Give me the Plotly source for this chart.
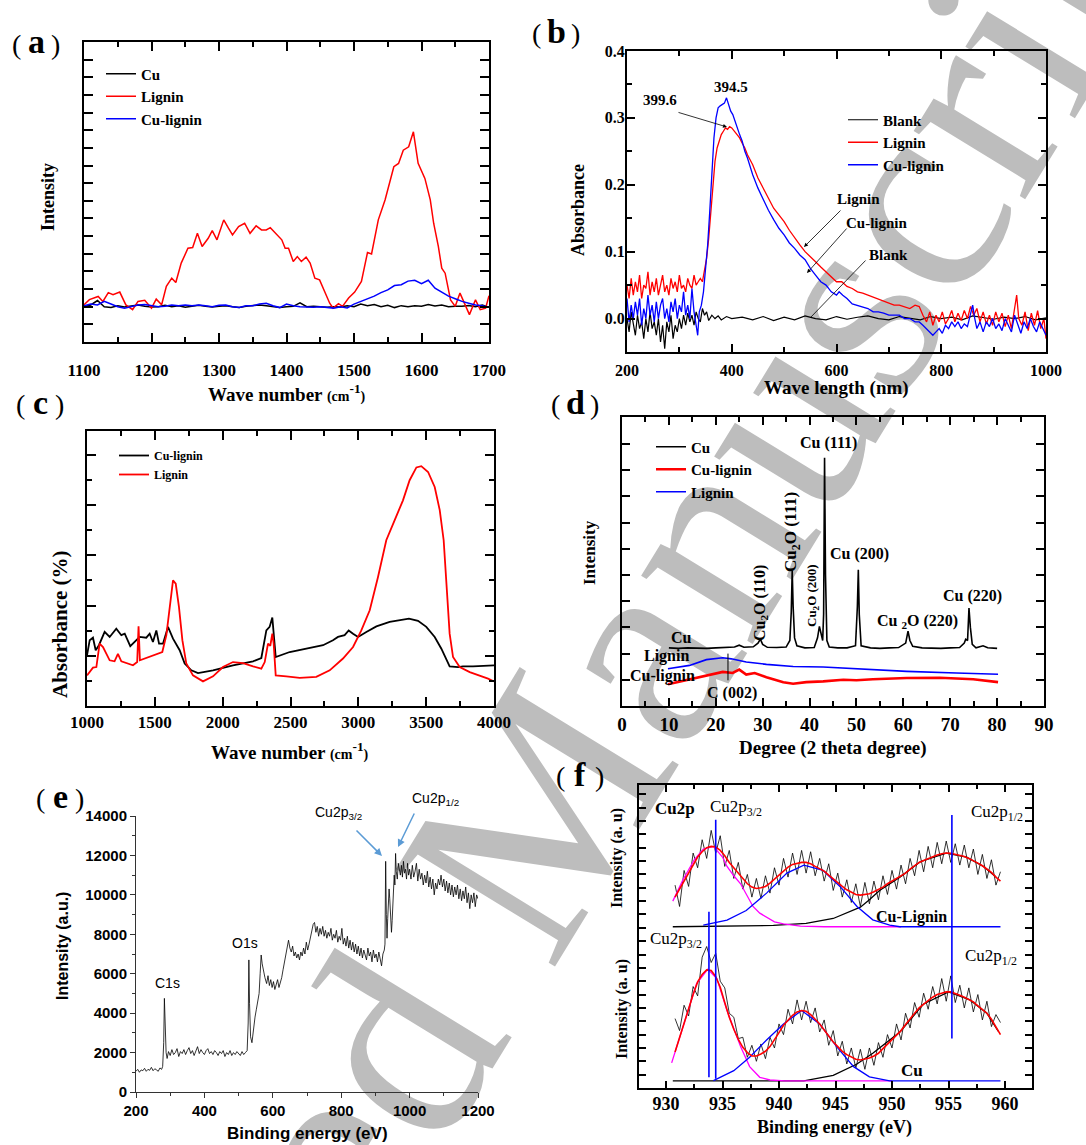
import plotly.graph_objects as go

W, H = 1086, 1145
SERIF = "Liberation Serif"
SANS = "Liberation Sans"

# ---------------- DATA ----------------
# (a) Raman
A_RED_X = [1100,1108,1121,1128,1136,1143,1153,1162,1172,1180,1190,1200,1207,1215,1222,1230,1236,1244,1254,1261,
           1268,1275,1284,1290,1297,1307,1314,1320,1329,1338,1346,1355,1363,1370,1376,1384,1393,1398,1403,1410,
           1416,1422,1429,1435,1442,1449,1457,1464,1469,1477,1483,1492,1501,1511,1520,1526,1536,1546,1559,1566,
           1573,1581,1588,1595,1605,1613,1618,1625,1630,1635,1643,1650,1657,1664,1671,1680,1687,1695,1700]
A_RED_Y = [2.11,2.4,2.58,2.3,2.8,2.68,2.83,2.1,1.83,2.3,2.36,1.92,2.43,2.11,3.15,3.62,3.37,4.47,5.31,5.35,
           6.16,5.41,5.88,6.31,5.79,6.92,6.45,6.07,6.54,6.73,6.16,6.58,6.35,6.35,6.48,6.16,5.79,5.31,5.31,4.56,
           4.84,4.56,4.81,4.47,3.62,3.52,2.77,2.2,1.92,2.17,2.02,2.49,2.83,3.43,5.07,4.99,6.92,8.05,9.93,10.12,
           10.87,11.06,11.91,10.12,9.27,8.05,6.73,5.41,4.18,3.9,2.39,2.02,2.77,2.11,1.55,2.39,1.83,1.92,2.62]
A_X10 = [1100,1110,1120,1130,1140,1150,1160,1170,1180,1190,1200,1210,1220,1230,1240,1250,1260,1270,1280,1290,
         1300,1310,1320,1330,1340,1350,1360,1370,1380,1390,1400,1410,1420,1430,1440,1450,1460,1470,1480,1490,
         1500,1510,1520,1530,1540,1550,1560,1570,1580,1590,1600,1610,1620,1630,1640,1650,1660,1670,1680,1690,1700]
A_BLUE_Y = [2.05,2.15,2.1,2.3,2.15,2.0,1.92,2.0,2.1,2.12,2.05,2.0,2.02,2.1,2.05,2.1,2.05,2.1,2.05,2.0,
            2.08,2.1,2.0,1.95,2.05,2.05,2.15,2.2,2.05,1.95,2.15,2.05,2.0,1.97,1.97,2.0,1.95,1.92,2.0,1.93,
            2.15,2.3,2.45,2.6,2.8,2.95,3.2,3.25,3.45,3.5,3.3,3.5,3.05,2.8,2.6,2.45,2.3,2.2,2.1,2.05,1.97]
A_CU_Y = [2.0,2.1,2.35,2.0,1.95,2.05,1.98,2.05,2.1,2.02,1.98,2.0,2.08,2.0,2.05,1.97,2.03,2.08,2.02,1.98,
          2.02,2.05,2.0,1.96,2.03,2.06,2.1,2.05,1.98,1.95,2.0,2.02,2.22,2.0,2.03,2.0,1.97,2.0,1.98,2.05,
          2.0,2.15,2.05,2.12,2.0,2.08,1.95,2.06,2.0,2.05,2.02,2.12,2.04,2.1,2.0,2.03,2.02,2.07,2.0,2.1,1.97]

# (b) UV-vis
B_RED_X = [200,204,208,212,216,220,224,228,232,236,240,244,248,252,256,260,264,268,272,276,280,284,288,292,296,
           300,304,308,312,316,320,324,328,332,336,340,344,348,352,356,360,364,368,372,376,380,384,388,392,396,
           400,405,410,415,420,425,430,440,450,460,470,480,490,500,510,520,530,540,550,560,570,580,590,600,610,
           620,630,640,650,660,670,680,690,700,710,720,730,740,750,758,765,772,778,784,790,796,802,808,814,820,
           826,832,838,844,850,856,862,868,874,880,886,892,898,904,910,916,922,928,934,940,944,948,954,960,966,
           972,978,984,990,996,1000]
B_RED_Y = [0.05,0.03,0.06,0.035,0.055,0.04,0.065,0.03,0.05,0.045,0.07,0.035,0.055,0.04,0.06,0.035,0.05,0.065,0.04,0.05,
           0.035,0.06,0.045,0.055,0.04,0.065,0.045,0.05,0.04,0.06,0.05,0.045,0.065,0.05,0.055,0.06,0.055,0.07,0.09,0.12,
           0.16,0.2,0.235,0.255,0.265,0.275,0.28,0.285,0.283,0.287,0.285,0.28,0.275,0.27,0.262,0.255,0.245,0.23,0.21,0.195,
           0.18,0.165,0.155,0.145,0.132,0.12,0.11,0.1,0.093,0.085,0.077,0.07,0.062,0.055,0.055,0.048,0.045,0.04,0.038,0.035,
           0.032,0.028,0.025,0.022,0.02,0.02,0.018,0.015,0.02,0.018,0.005,-0.005,0.01,-0.01,0.005,-0.005,0.01,-0.008,0.0,0.012,
           -0.005,0.008,-0.003,0.012,0.0,0.018,0.005,0.015,-0.005,0.01,-0.008,0.005,-0.01,0.01,-0.005,0.008,-0.012,0.005,-0.015,0.015,
           0.035,0.0,-0.01,0.01,-0.018,0.008,-0.01,0.012,-0.015,0.0,-0.03]
B_BLUE_X = [200,204,208,212,216,220,224,228,232,236,240,244,248,252,256,260,264,268,272,276,280,284,288,292,296,
            300,304,308,312,316,320,324,328,332,335,338,342,346,350,354,358,362,366,370,374,378,382,386,390,394,
            398,402,406,410,415,420,425,430,440,450,460,470,480,490,500,510,520,530,540,550,560,570,580,590,600,
            605,612,620,630,640,650,660,670,680,690,700,710,720,730,740,750,758,765,772,778,784,790,796,802,808,
            814,820,826,832,838,844,850,856,860,864,868,874,880,886,892,898,904,910,916,922,928,934,940,946,952,
            958,964,970,976,982,988,994,1000]
B_BLUE_Y = [0.03,-0.005,0.02,0.0,0.025,0.005,0.03,-0.01,0.015,0.0,0.035,0.005,0.02,-0.005,0.025,0.0,0.02,0.03,0.0,0.015,
            -0.005,0.025,0.01,0.03,0.0,0.02,0.01,0.04,0.005,0.02,0.0,0.045,0.01,-0.01,-0.025,0.01,0.02,0.04,0.07,0.11,
            0.16,0.22,0.27,0.3,0.315,0.318,0.32,0.322,0.33,0.318,0.31,0.305,0.295,0.285,0.275,0.265,0.25,0.24,0.215,0.195,
            0.178,0.162,0.148,0.135,0.125,0.113,0.105,0.095,0.088,0.075,0.065,0.055,0.05,0.04,0.035,0.04,0.035,0.03,0.022,0.02,
            0.018,0.015,0.01,0.01,0.008,0.005,0.005,0.005,0.0,0.0,-0.005,-0.005,-0.01,-0.015,-0.02,-0.025,-0.02,-0.015,-0.022,-0.01,
            -0.015,-0.005,-0.012,-0.005,-0.015,-0.008,-0.012,0.005,0.02,0.0,-0.015,-0.005,-0.02,-0.005,-0.012,0.0,-0.015,-0.008,-0.018,0.0,
            -0.01,-0.02,0.005,-0.01,-0.022,-0.005,-0.015,0.0,-0.012,-0.02,-0.005,-0.015,-0.025]
B_BLK_X = [200,204,208,212,216,220,224,228,232,236,240,244,248,252,256,260,264,268,272,276,280,284,288,292,296,
           300,304,308,312,316,320,324,328,332,336,340,344,348,352,356,362,368,374,380,390,400,420,440,460,480,
           500,520,540,560,580,600,620,640,660,680,700,720,740,760,780,800,820,840,860,880,900,920,940,960,980,1000]
B_BLK_Y = [0.0,-0.02,0.01,-0.01,-0.025,0.005,-0.015,-0.005,-0.03,0.0,-0.02,0.01,-0.015,-0.005,-0.025,0.0,-0.035,-0.01,-0.045,-0.005,
           -0.02,0.005,-0.03,-0.01,-0.02,0.0,-0.015,0.005,-0.01,0.008,-0.005,0.005,-0.01,0.01,0.0,-0.005,0.015,0.005,0.01,-0.003,
           0.005,0.0,0.004,-0.002,0.003,0.0,0.002,-0.002,0.003,-0.003,0.002,-0.002,0.004,0.0,-0.002,0.003,-0.001,0.002,0.004,0.0,
           -0.002,0.003,0.001,-0.002,0.003,0.0,0.002,-0.002,0.004,0.001,-0.001,0.002,0.0,0.003,-0.002,0.001]

# (c) FTIR
C_RED_X = [1000,1044,1069,1093,1118,1167,1203,1228,1253,1302,1339,1370,1380,1390,1450,1486,1523,1555,1585,1609,
           1634,1654,1678,1703,1732,1781,1855,1929,2002,2076,2150,2224,2285,2310,2334,2351,2366,2376,2391,2469,
           2568,2690,2789,2887,2961,3022,3084,3145,3206,3268,3329,3378,3428,3464,3514,3563,3600,3629,3649,3673,
           3698,3747,3821,3894,3956,4000]
C_RED_Y = [1.22,1.53,1.55,2.48,2.35,1.82,1.78,2.08,1.78,1.69,1.62,1.75,3.17,1.82,1.95,2.0,2.08,2.15,2.82,3.94,
           5.0,4.87,3.94,2.62,1.69,1.22,0.98,1.18,1.55,1.75,1.71,1.58,1.49,1.75,2.48,2.4,2.88,2.48,1.22,1.18,
           1.12,1.16,1.42,1.89,2.35,3.01,3.81,5.14,6.6,7.4,8.19,8.99,9.5,9.55,9.32,8.72,7.8,6.6,5.0,2.88,
           1.95,1.55,1.35,1.22,1.09,0.98]
C_BLK_X = [1000,1020,1044,1064,1088,1130,1167,1216,1253,1278,1319,1351,1388,1437,1462,1486,1511,1531,1560,1597,
           1634,1683,1720,1769,1818,1929,2076,2224,2285,2322,2346,2366,2376,2391,2494,2617,2740,2813,2850,2899,
           2929,2961,2998,3059,3133,3231,3305,3373,3440,3501,3563,3612,3673,3735,3771,3845,4000]
C_BLK_Y = [2.02,2.62,2.72,2.22,2.42,2.95,2.75,3.08,2.82,2.88,2.38,2.55,2.75,2.72,2.88,2.55,3.01,2.48,2.48,3.15,
           2.68,2.22,1.69,1.42,1.31,1.42,1.62,1.78,1.91,3.01,3.15,3.52,2.88,1.95,2.15,2.28,2.42,2.62,2.75,2.82,
           3.01,2.88,2.75,2.95,3.17,3.35,3.41,3.48,3.39,3.15,2.75,2.28,1.58,1.55,1.58,1.58,1.62]

# (d) XRD
D_CU_X = [10,12,14,16,18,20,22,24,25,26,28,29,29.5,30,31,33,35,35.8,36.1,36.3,36.5,36.8,37.3,39,41,41.7,42.1,42.4,
          42.8,43.0,43.2,43.4,43.7,44.2,46,48,49.8,50.2,50.4,50.6,51,53,55,57,59,60.5,61.0,61.4,62,64,66,68,70,72,
          73.0,73.3,73.7,74.0,74.3,74.7,75.5,77,78,80]
D_CU_Y = [2.22,2.2,2.22,2.21,2.2,2.22,2.23,2.25,2.32,2.24,2.26,2.4,2.55,2.35,2.24,2.23,2.25,2.5,3.6,5.17,3.8,2.6,2.3,2.22,
          2.23,2.6,3.04,2.75,2.5,3.5,9.47,5.0,2.5,2.25,2.22,2.22,2.3,3.8,5.2,3.5,2.3,2.22,2.2,2.22,2.23,2.4,2.86,2.5,
          2.28,2.22,2.21,2.2,2.22,2.23,2.4,2.55,2.5,3.74,3.0,2.35,2.22,2.3,2.22,2.2]
D_LIG_X = [9.8,14.4,18,21.5,23.3,26.5,30.8,36.5,42.9,50,60.7,71.3,80.2]
D_LIG_Y = [1.42,1.55,1.77,1.84,1.8,1.68,1.59,1.51,1.49,1.42,1.32,1.26,1.21]
D_CULIG_X = [9.8,13.7,18,21.5,23.6,25,26.5,28.3,30.8,34.4,36.5,39.3,42.9,47.2,50,53.5,60.7,67.8,74.9,80.2]
D_CULIG_Y = [0.83,0.98,1.17,1.3,1.26,1.39,1.2,1.26,1.1,0.91,0.85,0.91,0.94,1.0,0.98,1.02,1.07,1.08,1.02,0.91]
D_C002_X = [22.6, 22.6]
D_C002_Y = [0.98, 2.0]

# (e) XPS survey
E_X = [200,205,210,215,220,225,230,235,240,245,250,255,260,265,270,275,278,281,283,285,288,291,295,300,305,310,315,320,
       325,330,335,340,345,350,355,360,365,370,375,380,385,390,395,400,405,410,415,420,425,430,435,440,445,450,455,460,
       465,470,475,480,485,490,495,500,505,510,515,520,525,528,530,532,535,539,543,548,552,556,560,563,566,569,573,577,
       582,586,590,594,598,602,606,610,614,618,622,626,630,634,638,642,646,650,654,658,662,666,670,674,678,682,686,690,
       694,698,702,706,710,714,718,722,726,730,734,738,742,746,750,754,758,762,766,770,774,778,782,786,790,794,798,802,
       806,810,814,818,822,826,830,834,838,842,846,850,854,858,862,866,870,874,878,882,886,890,894,898,902,906,910,914,
       918,922,926,928,930,932,934,936,938,940,942,945,947,949,951,953,955,957,959,961,964,967,970,973,976,979,982,985,
       988,991,994,997,1000,1004,1008,1012,1016,1020,1024,1028,1032,1036,1040,1044,1048,1052,1056,1060,1064,1068,1072,
       1076,1080,1084,1088,1092,1096,1100,1104,1108,1112,1116,1120,1124,1128,1132,1136,1140,1144,1148,1152,1156,1160,
       1164,1168,1172,1176,1180,1184,1188,1192,1196,1200]
E_Y = [1050,1150,1000,1120,1080,1200,1050,1150,1100,1250,1080,1180,1120,1050,1220,1150,1300,2500,4750,3000,2000,1700,
       2050,1850,2150,1900,2000,2200,1800,2050,1950,2150,1900,2100,2250,1950,2100,1850,2050,2300,1950,2150,2000,1900,
       2100,2200,1950,2050,1900,2100,2000,1850,2050,1950,2100,1800,2000,1900,2100,1850,2000,1900,2050,1950,1850,2050,
       1900,2000,2100,3500,6700,4500,2800,2500,3200,3800,4200,4600,5000,6000,6950,6500,6100,5800,5500,5900,5400,5700,
       5300,5600,5200,5500,5700,5300,5500,5800,6200,6600,7000,7300,7700,7300,7100,7400,6900,7100,6800,7000,6700,7100,
       6900,7300,7000,7600,7200,7500,7900,8300,8500,8600,8100,8400,7900,8300,8000,8400,7900,8200,7800,8100,7900,8300,
       7700,8000,7800,8200,7600,7900,7700,8300,7500,7800,7400,7900,7300,7700,7200,7600,7100,7500,7000,7400,6900,7300,
       6800,7200,7000,6700,7300,6900,7100,6600,7200,6800,7000,6600,7100,6800,6400,7000,7200,7500,11700,9000,7800,8800,
       9300,10300,9800,8300,8100,8700,9500,10600,11000,10500,12100,11200,10800,11600,11200,11000,11500,10900,11700,11100,
       11300,10800,11600,11000,11300,10800,11500,10900,11200,11600,10700,11300,10800,11100,10500,11000,10600,11200,10400,
       10900,10300,10800,10000,10600,10300,10800,10500,11000,10400,10800,10200,10700,10100,10600,10000,10500,9900,10400,
       10000,10500,9800,10300,9700,10200,9800,10400,9600,10100,9300,10000,9600,10100,9400,10000,9800]

# (f) XPS Cu2p high resolution
F_X = [930.8,931.2,931.6,932.0,932.4,932.8,933.2,933.6,934.0,934.4,934.8,935.2,935.6,936.0,936.4,936.8,937.2,937.6,
       938.0,938.4,938.8,939.2,939.6,940.0,940.4,940.8,941.2,941.6,942.0,942.4,942.8,943.2,943.6,944.0,944.4,944.8,
       945.2,945.6,946.0,946.4,946.8,947.2,947.6,948.0,948.4,948.8,949.2,949.6,950.0,950.4,950.8,951.2,951.6,952.0,
       952.4,952.8,953.2,953.6,954.0,954.4,954.8,955.2,955.6,956.0,956.4,956.8,957.2,957.6,958.0,958.4,958.8,959.2,959.6]
F_UP_DATA = [15.2,13.6,16.3,15.1,17.6,16.5,18.6,17.2,19.3,17.6,18.9,16.6,17.8,15.7,16.9,14.9,16.0,14.3,
             15.7,14.2,15.9,14.6,16.5,15.2,17.2,15.8,17.6,16.0,17.8,16.1,17.7,15.9,17.2,15.5,16.8,14.8,
             16.1,14.3,15.6,13.9,15.3,13.6,15.4,13.8,15.5,14.1,15.9,14.5,16.3,14.9,16.7,15.3,17.2,15.9,
             17.8,16.2,18.1,16.5,18.4,16.8,18.5,16.9,18.3,16.7,18.2,16.5,17.9,16.0,17.5,15.7,17.1,15.2,16.2]
F_UP_FIT = [14.3,14.9,15.5,16.1,16.8,17.3,17.7,18.0,18.1,18.05,17.8,17.4,16.9,16.5,16.1,15.7,15.3,15.05,
            14.95,15.0,15.1,15.35,15.65,16.0,16.3,16.55,16.75,16.85,16.9,16.9,16.8,16.6,16.45,16.25,15.95,15.65,
            15.35,15.1,14.85,14.65,14.5,14.45,14.5,14.55,14.7,14.85,15.05,15.3,15.5,15.7,15.85,16.1,16.4,16.65,
            16.9,17.05,17.2,17.35,17.45,17.55,17.6,17.58,17.5,17.45,17.35,17.2,17.05,16.85,16.65,16.4,16.15,15.8,15.5]
F_LO_DATA = [5.2,4.3,6.2,5.4,7.6,6.9,9.8,10.6,9.4,10.1,8.0,7.5,5.6,5.3,3.7,3.8,2.3,3.2,
             2.0,3.3,2.2,3.8,3.0,4.8,4.0,5.9,4.8,6.6,5.1,6.5,4.9,6.0,4.2,5.1,3.2,4.3,
             2.4,3.5,1.8,3.0,1.5,2.9,1.4,3.0,1.7,3.4,2.3,4.0,3.0,4.8,3.6,5.6,4.5,6.4,
             5.3,7.1,5.9,7.6,6.3,8.2,6.5,8.4,6.4,7.7,6.0,7.5,5.7,7.0,5.1,6.5,4.6,5.5,4.9]
F_LO_FIT = [2.7,3.8,4.85,5.9,7.0,7.95,8.5,8.85,8.8,8.35,7.55,6.4,5.3,4.4,3.65,3.05,2.65,2.4,
            2.4,2.55,2.75,3.1,3.6,4.15,4.7,5.1,5.45,5.7,5.8,5.75,5.5,5.15,4.8,4.35,3.9,3.45,
            3.1,2.75,2.5,2.3,2.15,2.1,2.15,2.25,2.4,2.6,2.95,3.3,3.65,4.0,4.3,4.75,5.2,5.6,
            6.0,6.3,6.55,6.8,7.0,7.1,7.2,7.2,7.1,6.95,6.8,6.65,6.45,6.15,5.85,5.6,5.15,4.6,4.0]
F_UP_MAG_X = [930.6,931.5,932.5,933.3,934.2,935.0,935.4,936.0,936.6,937.2,937.7,938.3,938.9,939.6,940.4,941.9,944.0,950.8]
F_UP_MAG_Y = [14.0,15.6,17.1,17.9,18.1,17.3,16.6,15.9,15.3,14.4,13.6,13.1,12.8,12.45,12.3,12.12,12.08,12.08]
F_UP_BLU_X = [933.3,935.4,937.1,938.9,940.7,942.2,943.9,945.4,946.9,948.3,949.8,950.7,959.6]
F_UP_BLU_Y = [12.2,12.58,13.3,14.6,16.1,16.7,16.3,15.1,13.6,12.6,12.2,12.08,12.08]
F_UP_BLK_X = [930.6,939.5,942.4,944.8,947.2,948.0,948.9,950.7,952.5,954.8,956.6,958.1,959.2]
F_UP_BLK_Y = [12.08,12.18,12.33,12.7,13.55,14.1,14.8,15.8,16.95,17.6,17.3,16.6,15.8]
F_LO_MAG_X = [930.5,931.5,932.7,933.7,934.5,935.4,936.6,937.4,938.3,939.2,940.5,950.0]
F_LO_MAG_Y = [1.88,4.6,7.8,8.9,8.2,5.8,3.1,1.6,0.8,0.6,0.53,0.53]
F_LO_BLU_X = [934.2,936.0,937.4,938.9,940.4,942.0,943.6,945.1,946.6,948.0,949.8,959.6]
F_LO_BLU_Y = [0.55,1.3,2.3,3.6,4.8,5.8,4.8,3.1,1.6,0.83,0.53,0.53]
F_LO_BLK_X = [930.6,942.2,944.8,946.9,948.3,950.7,952.8,955.0,956.9,958.4,959.4]
F_LO_BLK_Y = [0.53,0.53,0.95,1.8,2.6,4.2,6.3,7.2,6.6,5.6,4.25]
F_VL1_X = [934.4, 934.4]; F_VL1_Y = [20.1, 0.7]
F_VL2_X = [933.8, 933.8]; F_VL2_Y = [13.2, 0.8]
F_VL3_X = [955.3, 955.3]; F_VL3_Y = [20.45, 3.7]

# ---------------- helpers ----------------
def px(x):
    return x / W


def py(y):
    return 1 - y / H


fig = go.Figure()
layout = {}
ann = []

DOM = {1: (84, 489, 42, 342), 2: (627, 1046, 51, 352), 3: (87, 494, 431, 706),
       4: (622, 1044, 417, 706), 5: (136, 478, 816, 1092), 6: (639, 1032, 785, 1088)}


def nm(n, a):
    return a if n == 1 else f"{a}{n}"


def boxed(n, xr, yr, xdt, xmi, ydt, ymi, ylabels=False, tfs=17, ticklen=8, xstand=None, ystand=None, yfmt=None):
    x0, x1, y0, y1 = DOM[n]
    common = dict(showline=True, linewidth=2, linecolor='black', mirror='ticks', ticks='inside',
                  ticklen=ticklen, tickwidth=1.5, tickcolor='black', showgrid=False, zeroline=False,
                  automargin=False,
                  tickfont=dict(family=SERIF, size=tfs, color='black', weight='bold'))
    xa = dict(common, domain=[px(x0), px(x1)], range=xr, anchor=nm(n, 'y'), dtick=xdt, tick0=0,
              minor=dict(ticks='inside', dtick=xmi, ticklen=ticklen * 0.6, tickwidth=1.5, tickcolor='black'))
    ya = dict(common, domain=[py(y1), py(y0)], range=yr, anchor=nm(n, 'x'), dtick=ydt, tick0=0,
              showticklabels=ylabels,
              minor=dict(ticks='inside', dtick=ymi, ticklen=ticklen * 0.6, tickwidth=1.5, tickcolor='black'))
    if xstand is not None:
        xa['ticklabelstandoff'] = xstand
    if ystand is not None:
        ya['ticklabelstandoff'] = ystand
    if yfmt:
        ya['tickformat'] = yfmt
    layout[nm(n, 'xaxis')] = xa
    layout[nm(n, 'yaxis')] = ya


def txt(s, x, y, size, family=SERIF, bold=True, angle=0, color='black', xanchor='center'):
    ann.append(dict(text=s, x=px(x), y=py(y), xref='paper', yref='paper', showarrow=False,
                    font=dict(family=family, size=size, color=color, weight='bold' if bold else 'normal'),
                    textangle=angle, xanchor=xanchor, yanchor='middle'))


def arrow(x0, y0, x1, y1, color='black', head=2, width=0.8, size=1.0):
    ann.append(dict(text='', x=px(x1), y=py(y1), xref='paper', yref='paper', ax=x0 - x1, ay=y0 - y1,
                    axref='pixel', ayref='pixel', showarrow=True, arrowhead=head, arrowcolor=color,
                    arrowwidth=width, arrowsize=size))


def line(x, y, n, color, width, name=None, legend=None):
    fig.add_trace(go.Scatter(x=x, y=y, mode='lines', xaxis=nm(n, 'x'), yaxis=nm(n, 'y'),
                             line=dict(color=color, width=width), name=name or '',
                             showlegend=legend is not None, legend=legend or 'legend', hoverinfo='skip'))


# ---------------- panel (a) ----------------
boxed(1, [1100, 1700], [0, 17], 100, 50, 1, 1, tfs=17, ticklen=9, xstand=12)
line(A_X10, A_CU_Y, 1, 'black', 1.5, 'Cu', 'legend')
line(A_RED_X, A_RED_Y, 1, 'red', 1.5, 'Lignin', 'legend')
line(A_X10, A_BLUE_Y, 1, 'blue', 1.5, 'Cu-lignin', 'legend')

# ---------------- panel (b) ----------------
boxed(2, [200, 1000], [-0.05, 0.4], 200, 100, 0.1, 0.05, ylabels=True, tfs=16, ticklen=8, yfmt='.1f',
      xstand=3, ystand=-3)
line(B_BLK_X, B_BLK_Y, 2, 'black', 1.2, 'Blank', 'legend2')
line(B_RED_X, B_RED_Y, 2, 'red', 1.3, 'Lignin', 'legend2')
line(B_BLUE_X, B_BLUE_Y, 2, 'blue', 1.3, 'Cu-lignin', 'legend2')

# ---------------- panel (c) ----------------
boxed(3, [1000, 4000], [0, 10.95], 500, 250, 2, 1, tfs=17, ticklen=9)
line(C_BLK_X, C_BLK_Y, 3, 'black', 1.8, 'Cu-lignin', 'legend3')
line(C_RED_X, C_RED_Y, 3, 'red', 1.8, 'Lignin', 'legend3')

# ---------------- panel (d) ----------------
boxed(4, [0, 90], [0, 11.03], 10, 5, 1, 1, tfs=19, ticklen=8)
line(D_CU_X, D_CU_Y, 4, 'black', 1.6, 'Cu', 'legend4')
line(D_CULIG_X, D_CULIG_Y, 4, 'red', 2.6, 'Cu-lignin', 'legend4')
line(D_LIG_X, D_LIG_Y, 4, 'blue', 1.6, 'Lignin', 'legend4')
line(D_C002_X, D_C002_Y, 4, 'black', 1.0)

# ---------------- panel (e) ----------------
x0, x1, y0, y1 = DOM[5]
ecommon = dict(showline=True, linewidth=1, linecolor='#333333', ticks='outside', ticklen=5, tickwidth=1,
               tickcolor='#333333', showgrid=False, zeroline=False, mirror=False, automargin=False,
               tickfont=dict(family=SANS, size=15, color='black', weight='bold'))
layout['xaxis5'] = dict(ecommon, domain=[px(x0), px(x1)], range=[200, 1200], anchor='y5', dtick=200,
                        tickformat='d',
                        minor=dict(ticks='outside', dtick=100, ticklen=3, tickwidth=1, tickcolor='#333333'))
layout['yaxis5'] = dict(ecommon, domain=[py(y1), py(y0)], range=[0, 14000], anchor='x5', dtick=2000,
                        tickformat='d',
                        minor=dict(ticks='outside', dtick=1000, ticklen=3, tickwidth=1, tickcolor='#333333'))
line(E_X, E_Y, 5, 'black', 0.8)

# ---------------- panel (f) ----------------
boxed(6, [927.61, 962.39], [0, 22.7], 5, 2.5, 1, 1, tfs=18, ticklen=7, xstand=-2)
line(F_X, F_UP_DATA, 6, 'black', 0.8)
line(F_X, F_LO_DATA, 6, 'black', 0.8)
line(F_UP_BLK_X, F_UP_BLK_Y, 6, 'black', 1.3)
line(F_LO_BLK_X, F_LO_BLK_Y, 6, 'black', 1.3)
line(F_UP_MAG_X, F_UP_MAG_Y, 6, 'magenta', 1.3)
line(F_LO_MAG_X, F_LO_MAG_Y, 6, 'magenta', 1.3)
line(F_UP_BLU_X, F_UP_BLU_Y, 6, 'blue', 1.3)
line(F_LO_BLU_X, F_LO_BLU_Y, 6, 'blue', 1.3)
line(F_X, F_UP_FIT, 6, 'red', 1.6)
line(F_X, F_LO_FIT, 6, 'red', 1.6)
line(F_VL1_X, F_VL1_Y, 6, 'blue', 1.6)
line(F_VL2_X, F_VL2_Y, 6, 'blue', 1.6)
line(F_VL3_X, F_VL3_Y, 6, 'blue', 1.6)

# ---------------- text ----------------
def plabel(letter, xc, base):
    txt("(", xc - 20, base - 9, 28, bold=False)
    txt(letter, xc, base - 11, 34)
    txt(")", xc + 19, base - 9, 28, bold=False)


plabel("a", 36, 53)
plabel("b", 556, 42)
plabel("c", 40, 413)
plabel("d", 575, 413)
plabel("e", 60, 807)
plabel("f", 580, 785)

wn = "Wave number <span style='font-size:14px'>(cm</span><sup>-1</sup><span style='font-size:14px'>)</span>"
txt(wn, 287, 393, 19)
txt("Intensity", 48, 197, 18, angle=-90)
txt("Wave length (nm)", 836, 388, 19)
txt("Absorbance", 578, 210, 18, angle=-90)
txt(wn, 290, 751, 19)
txt("Absorbance (%)", 60, 624, 21, angle=-90)
txt("Degree (2 theta degree)", 833, 748, 19)
txt("Intensity", 590, 552, 17, angle=-90)
txt("Binding energy (eV)", 307, 1133, 17, family=SANS)
txt("Intensity (a.u.)", 62, 946, 16, family=SANS, angle=-90)
txt("Binding energy (eV)", 834, 1127, 18)
txt("Intensity (a. u)", 617, 858, 16, angle=-90)
txt("Intensity (a. u)", 622, 1009, 16, angle=-90)

# (b) annotations
txt("394.5", 731, 87, 15)
txt("399.6", 660, 100, 15)
txt("Lignin", 858, 199, 15)
txt("Cu-lignin", 877, 223, 15)
txt("Blank", 888, 255, 15)
arrow(677, 112, 727, 127)
arrow(842, 209, 804, 247)
arrow(848, 227, 807, 273)
arrow(867, 259, 810, 318, head=0)

# (d) annotations
txt("Cu (111)", 828, 443, 16)
txt("Cu (200)", 859, 554, 16)
txt("Cu (220)", 972, 596, 16)
txt("Cu <sub>2</sub>O (220)", 917, 621, 16)
txt("Cu<sub>2</sub>O (111)", 792, 532, 17, angle=-90)
txt("Cu<sub>2</sub>O (200)", 813, 596, 13, angle=-90)
txt("Cu<sub>2</sub>O (110)", 760, 603, 16, angle=-90)
txt("Cu", 681, 637, 16)
txt("Lignin", 666, 656, 16)
txt("Cu-lignin", 662, 676, 16)
txt("C (002)", 732, 693, 16)

# (e) annotations
txt("C1s", 167, 983, 14, family=SANS, bold=False)
txt("O1s", 245, 943, 14, family=SANS, bold=False)
txt("Cu2p<sub>3/2</sub>", 338, 813, 14, family=SANS, bold=False)
txt("Cu2p<sub>1/2</sub>", 435, 799, 14, family=SANS, bold=False)
arrow(355, 829, 382, 856, color='#5b9bd5', head=2, width=1.5)
arrow(415, 812, 398, 847, color='#5b9bd5', head=2, width=1.5)

# (f) annotations
txt("Cu2p", 675, 808, 17)
txt("Cu2p<sub>3/2</sub>", 736, 808, 17, bold=False)
txt("Cu2p<sub>1/2</sub>", 997, 813, 17, bold=False)
txt("Cu2p<sub>3/2</sub>", 676, 940, 17, bold=False)
txt("Cu2p<sub>1/2</sub>", 991, 957, 17, bold=False)
txt("Cu-Lignin", 911, 917, 16)
txt("Cu", 912, 1070, 17)

# ---------------- legends ----------------
def leg(x, y, size):
    return dict(x=px(x), y=py(y), xanchor='left', yanchor='top', bgcolor='rgba(0,0,0,0)',
                font=dict(family=SERIF, size=size, color='black', weight='bold'), borderwidth=0,
                tracegroupgap=0)

layout['legend'] = leg(101, 57.5, 15)
layout['legend2'] = leg(843, 103.5, 15)
layout['legend3'] = leg(114, 441, 12)
layout['legend4'] = leg(651, 430.5, 15)

# ---------------- watermark ----------------
cx, cy = 482, 843
ang = 58.5
dx, dy = 0.522, -0.853
L = 900
shapes = [dict(type='line', xref='paper', yref='paper', layer='below',
               x0=px(cx - L * dx), y0=py(cy - L * dy), x1=px(cx + L * dx), y1=py(cy + L * dy),
               line=dict(color='rgba(0,0,0,0)', width=1),
               label=dict(text='Accepted Manuscript', textposition='middle', yanchor='middle',
                          textangle=-ang, font=dict(family=SERIF, size=285, color='#bdbdbd')))]

fig.update_layout(**layout)
fig.update_layout(width=W, height=H, margin=dict(l=0, r=0, t=0, b=0, autoexpand=False), paper_bgcolor='white',
                  plot_bgcolor='rgba(0,0,0,0)', annotations=ann, shapes=shapes, showlegend=True)
fig.write_html("out.html")
